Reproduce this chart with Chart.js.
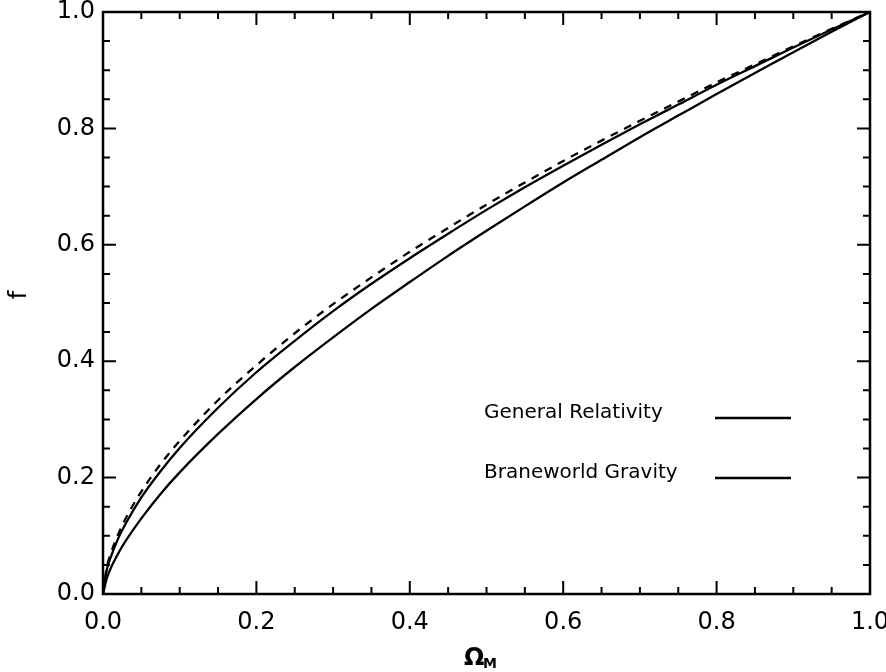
<!DOCTYPE html>
<html>
<head>
<meta charset="utf-8">
<script src="https://cdn.jsdelivr.net/npm/chart.js@4"></script>
<style>
  html, body { margin: 0; padding: 0; background: #fff; }
  canvas { display: block; }
</style>
</head>
<body>
<canvas id="growth" width="886" height="672"></canvas>
<script>
// matter density parameter
var omegaM = [0, 0.005, 0.01, 0.02, 0.03, 0.05, 0.075, 0.1, 0.15, 0.2, 0.25, 0.3, 0.35,
    0.4, 0.45, 0.5, 0.55, 0.6, 0.65, 0.7, 0.75, 0.8, 0.85, 0.9, 0.95, 1.0];

// growth rate f for each model
var fDashed = [0, 0.046, 0.069, 0.103, 0.131, 0.176, 0.223, 0.263, 0.333, 0.393, 0.448, 0.498,
    0.544, 0.588, 0.629, 0.669, 0.707, 0.744, 0.779, 0.813, 0.846, 0.879, 0.910, 0.941, 0.971, 1.0];
var fGR = [0, 0.042, 0.063, 0.096, 0.122, 0.166, 0.211, 0.251, 0.320, 0.381, 0.435, 0.486,
    0.533, 0.577, 0.619, 0.660, 0.699, 0.736, 0.772, 0.807, 0.841, 0.875, 0.907, 0.939, 0.970, 1.0];
var fBrane = [0, 0.027, 0.044, 0.070, 0.092, 0.130, 0.172, 0.209, 0.275, 0.335, 0.390, 0.441,
    0.490, 0.536, 0.581, 0.624, 0.666, 0.707, 0.746, 0.785, 0.822, 0.859, 0.895, 0.931, 0.966, 1.0];

var tickValues = [0, 0.2, 0.4, 0.6, 0.8, 1.0];
var minorStep = 0.05;
var legendLabels = ['General Relativity', 'Braneworld Gravity'];

var FONT = '"DejaVu Sans", sans-serif';

function pts(ys) {
    return omegaM.map(function (x, i) { return { x: x, y: ys[i] }; });
}

function line(label, ys, dash) {
    return {
        label: label,
        data: pts(ys),
        borderColor: '#000',
        borderWidth: 2.3,
        borderDash: dash || [],
        pointRadius: 0,
        fill: false,
        cubicInterpolationMode: 'monotone'
    };
}

// frame, inward ticks, axis titles and the in-plot legend
var decorations = {
    id: 'decorations',
    afterDraw: function (chart) {
        var ctx = chart.ctx;
        var a = chart.chartArea;
        var x = chart.scales.x;
        var y = chart.scales.y;
        ctx.save();
        ctx.strokeStyle = '#000';
        ctx.fillStyle = '#000';
        ctx.lineWidth = 2.5;
        ctx.strokeRect(a.left, a.top, a.right - a.left, a.bottom - a.top);

        ctx.lineWidth = 2;
        ctx.beginPath();
        for (var i = 0; i <= Math.round(1 / minorStep); i++) {
            var v = i * minorStep;
            var len = i % 4 === 0 ? 13 : 7;
            var px = x.getPixelForValue(v);
            ctx.moveTo(px, a.bottom); ctx.lineTo(px, a.bottom - len);
            ctx.moveTo(px, a.top); ctx.lineTo(px, a.top + len);
            var py = y.getPixelForValue(v);
            ctx.moveTo(a.left, py); ctx.lineTo(a.left + len, py);
            ctx.moveTo(a.right, py); ctx.lineTo(a.right - len, py);
        }
        ctx.stroke();

        // y title
        ctx.save();
        ctx.translate(20, 295);
        ctx.rotate(-Math.PI / 2);
        ctx.font = '24px ' + FONT;
        ctx.textAlign = 'center';
        ctx.textBaseline = 'middle';
        ctx.fillText('f', 0, 0);
        ctx.restore();

        // x title: Omega with subscript M
        ctx.font = 'bold 24px ' + FONT;
        ctx.textAlign = 'left';
        ctx.textBaseline = 'alphabetic';
        ctx.fillText('Ω', 464, 665);
        ctx.font = 'bold 14px ' + FONT;
        ctx.fillText('M', 483, 668);

        // legend: label then a line sample
        ctx.font = '20px ' + FONT;
        ctx.textBaseline = 'middle';
        ctx.lineWidth = 2.3;
        legendLabels.forEach(function (lab, k) {
            var ty = a.top + 401 + k * 60;
            ctx.fillText(lab, a.left + 381, ty);
            ctx.beginPath();
            ctx.moveTo(a.left + 612, ty + 5);
            ctx.lineTo(a.left + 688, ty + 5);
            ctx.stroke();
        });
        ctx.restore();
    }
};

new Chart(document.getElementById('growth'), {
    type: 'line',
    data: {
        datasets: [
            line('dashed', fDashed, [8, 7]),
            line(legendLabels[0], fGR),
            line(legendLabels[1], fBrane)
        ]
    },
    options: {
        responsive: false,
        animation: false,
        layout: { padding: { top: 12, right: 16, left: 0, bottom: 0 } },
        plugins: { legend: { display: false }, tooltip: { enabled: false } },
        scales: {
            x: {
                type: 'linear',
                min: 0,
                max: 1,
                afterFit: function (s) {
                    s.height = 78;
                    s.paddingLeft = 0;
                    s.paddingRight = 0;
                },
                afterBuildTicks: function (s) { s.ticks = tickValues.map(function (v) { return { value: v }; }); },
                grid: { display: false, drawTicks: false },
                border: { display: false },
                ticks: {
                    padding: 14,
                    color: '#000',
                    font: { family: FONT, size: 24 },
                    maxRotation: 0,
                    callback: function (v) { return v.toFixed(1); }
                }
            },
            y: {
                type: 'linear',
                min: 0,
                max: 1,
                afterFit: function (s) {
                    s.width = 103;
                    s.paddingTop = 0;
                    s.paddingBottom = 0;
                },
                afterBuildTicks: function (s) { s.ticks = tickValues.map(function (v) { return { value: v }; }); },
                grid: { display: false, drawTicks: false },
                border: { display: false },
                ticks: {
                    padding: 8,
                    color: '#000',
                    font: { family: FONT, size: 24 },
                    callback: function (v) { return v.toFixed(1); }
                }
            }
        }
    },
    plugins: [decorations]
});
</script>
</body>
</html>
